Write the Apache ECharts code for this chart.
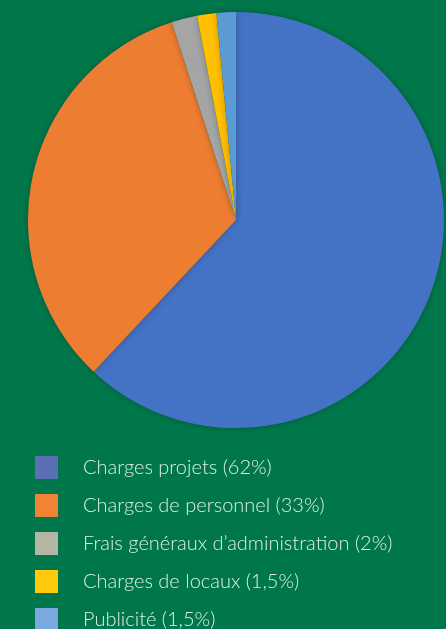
<!DOCTYPE html>
<html><head><meta charset="utf-8">
<script src="https://cdn.jsdelivr.net/npm/echarts@6/dist/echarts.min.js"></script>
<style>html,body{margin:0;padding:0;background:#00774a;}#c{width:446px;height:629px;}</style>
</head><body><div id="c"></div>
<script>
const categories = ["Charges projets (62%)","Charges de personnel (33%)","Frais généraux d\u2019administration (2%)","Charges de locaux (1,5%)","Publicité (1,5%)"];
const values = [62, 33, 2, 1.5, 1.5];
const sliceColors = ["#4472c4","#ed7d31","#a5a5a5","#ffc000","#5b9bd5"];
const legendColors = ["#5b6fb5","#f08434","#b4b5a5","#ffc90e","#7aa9e0"];

const chart = echarts.init(document.getElementById('c'));
chart.setOption({
  backgroundColor: '#00774a',
  animation: false,
  legend: {
    orient: 'vertical',
    left: 35, top: 456, height: 200, width: 400,
    padding: 0,
    itemWidth: 23, itemHeight: 23, itemGap: 15,
    icon: 'rect',
    data: categories.map((c,i)=>({name:c, itemStyle:{color:legendColors[i]}})),
    textStyle: {color:'#dcefe4', fontSize:20, fontFamily:'Lato', fontWeight:300, padding:[0,0,0,20]}
  },
  series: [{
    type: 'pie',
    center: [236, 220],
    radius: [0, 208],
    startAngle: 90,
    clockwise: true,
    label: {show:false},
    labelLine: {show:false},
    itemStyle: {borderWidth:0, shadowBlur:6, shadowColor:'rgba(0,0,0,0.25)'},
    data: categories.map((c,i)=>({name:c, value:values[i], itemStyle:{color:sliceColors[i]}}))
  }]
});
</script></body></html>
